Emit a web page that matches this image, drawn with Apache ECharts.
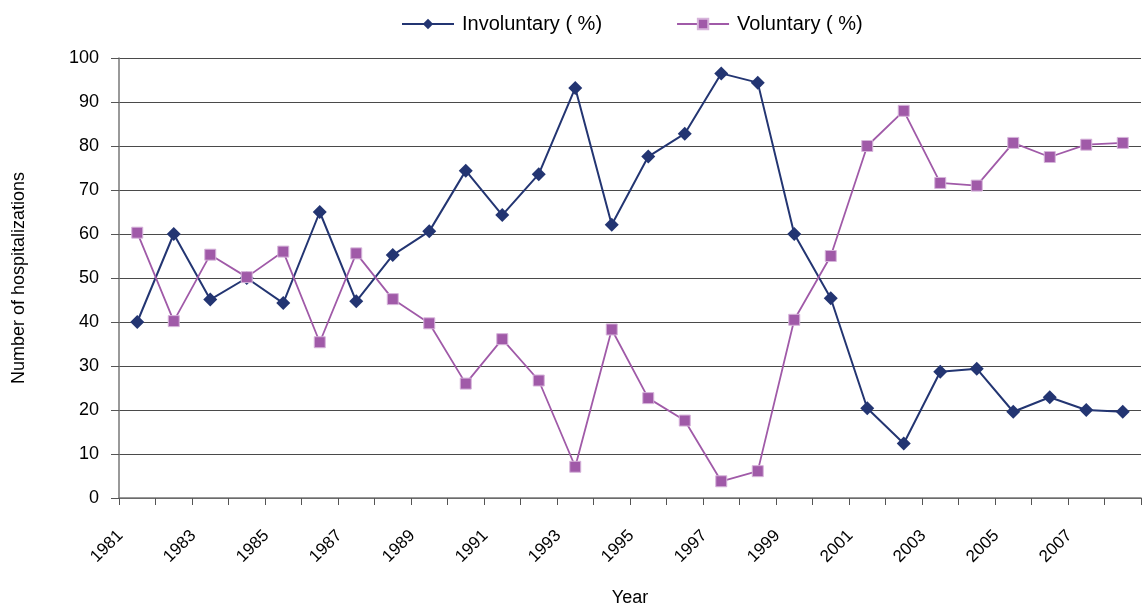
<!DOCTYPE html>
<html>
<head>
<meta charset="utf-8">
<script src="https://cdn.jsdelivr.net/npm/echarts@6/dist/echarts.min.js"></script>
<style>
html,body{margin:0;padding:0;background:#fff;}
#chart{width:1142px;height:606px;}
</style>
</head>
<body>
<div id="chart"></div>
<script>
// years on the x axis
var years = ['1981','1982','1983','1984','1985','1986','1987','1988','1989','1990',
	'1991','1992','1993','1994','1995','1996','1997','1998','1999','2000',
	'2001','2002','2003','2004','2005','2006','2007','2008'];
// involuntary share (%)
var involuntary = [40.0,60.0,45.1,50.0,44.3,65.0,44.7,55.2,60.6,74.4,
	64.3,73.6,93.2,62.1,77.6,82.8,96.5,94.4,60.0,45.4,
	20.4,12.4,28.7,29.4,19.6,22.9,20.0,19.6];
// voluntary share (%)
var voluntary = [60.3,40.2,55.3,50.2,56.0,35.4,55.6,45.2,39.7,26.0,
	36.1,26.7,7.1,38.3,22.7,17.6,3.8,6.1,40.5,55.0,
	80.0,88.0,71.6,71.0,80.7,77.5,80.3,80.7];

var font = "'Liberation Sans', Arial, sans-serif";

var option = {
	animation: false,
	backgroundColor: '#fff',
	textStyle: { fontFamily: font },
	legend: {
		top: 9,
		left: 396,
		itemWidth: 52,
		itemHeight: 13,
		itemGap: 74,
		textStyle: { fontSize: 20, color: '#000', fontFamily: font, padding: [0, 0, 0, 3] },
		data: ['Involuntary ( %)', 'Voluntary ( %)']
	},
	grid: {
		left: 119,
		right: 1,
		top: 58,
		bottom: 108,
		outerBoundsMode: 'none'
	},
	xAxis: {
		type: 'category',
		data: years,
		boundaryGap: true,
		name: 'Year',
		nameLocation: 'middle',
		nameGap: 91,
		nameTextStyle: { fontSize: 18, color: '#000', fontFamily: font },
		axisLine: { lineStyle: { color: '#777', width: 1.5 } },
		axisTick: { show: true, interval: 0, length: 7, lineStyle: { color: '#555' } },
		axisLabel: {
			interval: 1,
			rotate: 45,
			margin: 18,
			padding: [0, 24, 0, 0],
			fontSize: 17,
			color: '#000',
			fontFamily: font
		},
		splitLine: { show: false }
	},
	yAxis: {
		type: 'value',
		min: 0,
		max: 100,
		interval: 10,
		name: 'Number of hospitalizations',
		nameLocation: 'middle',
		nameGap: 91,
		nameRotate: 90,
		nameTextStyle: { fontSize: 18, color: '#000', fontFamily: font },
		axisLine: { show: true, lineStyle: { color: '#777', width: 1.5 } },
		axisTick: { show: true, length: 8, lineStyle: { color: '#555' } },
		axisLabel: { fontSize: 18, color: '#000', margin: 20, fontFamily: font },
		splitLine: { show: true, lineStyle: { color: '#4a4a4a', width: 1 } }
	},
	series: [
		{
			name: 'Involuntary ( %)',
			type: 'line',
			data: involuntary,
			symbol: 'diamond',
			symbolSize: 14,
			color: '#233572',
			lineStyle: { width: 2, color: '#233572' },
			itemStyle: { color: '#233572' }
		},
		{
			name: 'Voluntary ( %)',
			type: 'line',
			data: voluntary,
			symbol: 'rect',
			symbolSize: 11,
			color: '#a05aa8',
			lineStyle: { width: 1.8, color: '#a05aa8' },
			itemStyle: { color: '#a05aa8', borderColor: '#d6b4da', borderWidth: 1 }
		}
	]
};

var mCharts = echarts.init(document.getElementById('chart'));
mCharts.setOption(option);
</script>
</body>
</html>
